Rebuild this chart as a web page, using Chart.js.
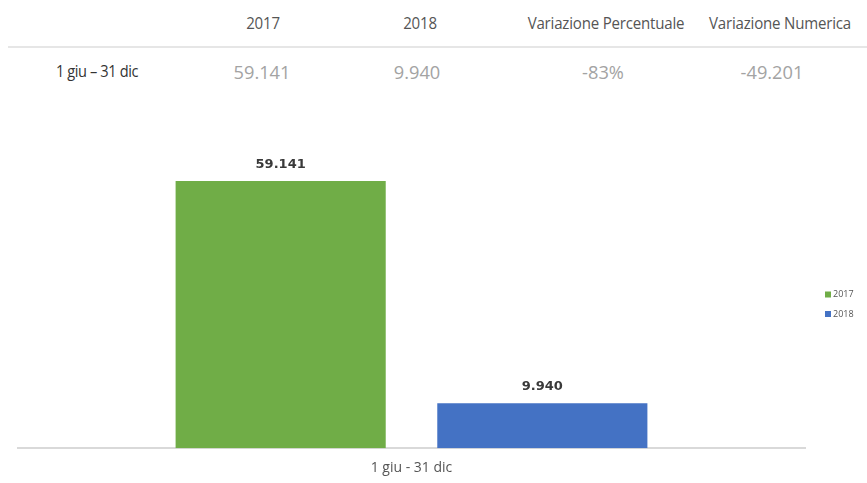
<!DOCTYPE html>
<html>
<head>
<meta charset="utf-8">
<script src="https://cdn.jsdelivr.net/npm/chart.js@4.4.0/dist/chart.umd.min.js"></script>
<style>
  body { margin: 0; background: #fff; width: 867px; height: 483px; overflow: hidden; position: relative; font-family: "Open Sans", sans-serif; }
  .cell { position: absolute; white-space: nowrap; line-height: 1; }
  .head { font-size: 16px; color: #555; transform: translate(-50%, -50%) scaleX(0.94); letter-spacing: -0.2px; }
  .val { font-size: 19px; color: #a3a3a3; transform: translate(-50%, -50%) scaleX(0.96); }
  .rowlabel { font-size: 15.5px; color: #333; transform: translate(-50%, -50%) scaleX(0.94); letter-spacing: -0.4px; }
  #rule { position: absolute; left: 8px; right: 0; top: 46px; height: 2px; background: #e6e6e6; }
  #wrap { position: absolute; left: 0; top: 120px; width: 867px; height: 363px; }
</style>
</head>
<body>
<div id="table"></div>
<div id="rule"></div>
<div id="wrap"><canvas id="barChart"></canvas></div>
<script>
const tableHeaders = ['2017', '2018', 'Variazione Percentuale', 'Variazione Numerica'];
const rowLabel = '1 giu \u2013 31 dic';
const rowValues = ['59.141', '9.940', '-83%', '-49.201'];

const categories = ['1 giu - 31 dic'];
const seriesNames = ['2017', '2018'];
const values2017 = [59141];
const values2018 = [9940];
const valueLabels2017 = ['59.141'];
const valueLabels2018 = ['9.940'];

// table above the chart
const headX = [263, 420, 606, 780];
const valX = [262, 417, 603, 772];
const table = document.getElementById('table');
function addCell(cls, text, x, y) {
  const d = document.createElement('div');
  d.className = 'cell ' + cls;
  d.style.left = x + 'px';
  d.style.top = y + 'px';
  d.textContent = text;
  table.appendChild(d);
}
tableHeaders.forEach((h, i) => addCell('head', h, headX[i], 23));
addCell('rowlabel', rowLabel, 97, 72);
rowValues.forEach((v, i) => addCell('val', v, valX[i], 72));

const valueLabelPlugin = {
  id: 'valueLabels',
  afterDatasetsDraw(chart) {
    const ctx = chart.ctx;
    const labelSets = [valueLabels2017, valueLabels2018];
    ctx.save();
    ctx.font = 'bold 13px "DejaVu Sans", sans-serif';
    ctx.fillStyle = '#3a3a3a';
    ctx.textAlign = 'center';
    ctx.textBaseline = 'middle';
    chart.data.datasets.forEach((ds, i) => {
      chart.getDatasetMeta(i).data.forEach((bar, j) => {
        ctx.fillText(labelSets[i][j], bar.x, bar.y - 16.5);
      });
    });
    ctx.restore();
  }
};

// small legend to the right of the plot
const sideLegendPlugin = {
  id: 'sideLegend',
  afterDraw(chart) {
    const ctx = chart.ctx;
    const x = chart.chartArea.right + 20;
    ctx.save();
    ctx.font = '9px "Open Sans", sans-serif';
    ctx.textBaseline = 'middle';
    chart.data.datasets.forEach((ds, i) => {
      const y = 174.5 + i * 19.5;
      ctx.fillStyle = ds.backgroundColor;
      ctx.fillRect(x, y - 3, 6, 6);
      ctx.fillStyle = '#555';
      ctx.fillText(ds.label, x + 8, y);
    });
    ctx.restore();
  }
};

const ctx = document.getElementById('barChart').getContext('2d');
const barChart = new Chart(ctx, {
  type: 'bar',
  data: {
    labels: categories,
    datasets: [{
      label: seriesNames[0],
      data: values2017,
      backgroundColor: '#70ad47',
      categoryPercentage: 0.665,
      barPercentage: 0.803
    }, {
      label: seriesNames[1],
      data: values2018,
      backgroundColor: '#4472c4',
      categoryPercentage: 0.665,
      barPercentage: 0.803
    }]
  },
  options: {
    responsive: true,
    maintainAspectRatio: false,
    animation: false,
    layout: {
      padding: { left: 18, top: 12, right: 62, bottom: 4 }
    },
    plugins: {
      legend: { display: false },
      tooltip: { enabled: false }
    },
    scales: {
      x: {
        grid: { display: false },
        border: { display: true, color: '#d9d9d9', width: 2 },
        ticks: {
          color: '#555',
          padding: 3,
          font: { size: 14, family: '"Open Sans", sans-serif' }
        }
      },
      y: {
        display: false,
        beginAtZero: true,
        max: 70000
      }
    }
  },
  plugins: [valueLabelPlugin, sideLegendPlugin]
});
</script>
</body>
</html>
